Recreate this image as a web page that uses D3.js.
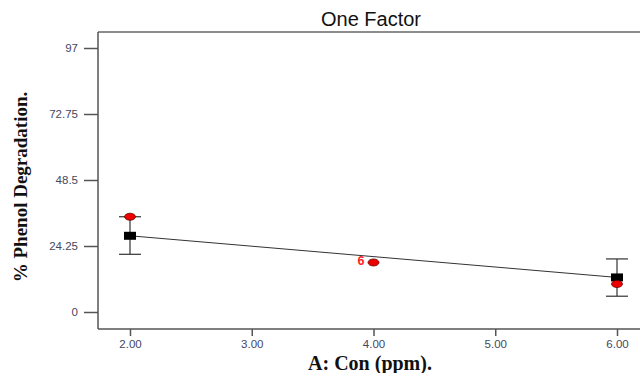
<!DOCTYPE html>
<meta charset="utf-8">
<style>
body { margin: 0; background: #fff; }
.axis path, .axis line { fill: none; stroke: #555; stroke-width: 1.5; }
.axis text { font-family: "Liberation Sans", Arial, sans-serif; font-size: 11.5px; fill: #44475f; }
.axlabel { font-family: "Liberation Serif", "Times New Roman", serif; font-weight: bold; fill: #111; }
</style>
<body>
<script src="https://d3js.org/d3.v7.min.js"></script>
<script>
// predicted line (design points) and error bars
var levels = [2, 6];
var predicted = [28.0, 12.7];
var barLow = [21.2, 5.8];
var barHigh = [35.0, 19.5];

// actual runs
var runX = [2, 4, 6];
var runY = [35.0, 18.2, 10.3];
var runLabels = ["", "6", ""];

var xTicks = [2, 3, 4, 5, 6];
var yTicks = [0, 24.25, 48.5, 72.75, 97];

var W = 640, H = 373;
var frameLeft = 98, frameTop = 32, frameBottom = 329;

var svg = d3.select("body").append("svg")
    .attr("width", W)
    .attr("height", H);

var x = d3.scaleLinear().domain([2, 6]).range([130, 617]);
var y = d3.scaleLinear().domain([0, 97]).range([312, 48]);

// frame top line
svg.append("line")
    .attr("x1", frameLeft).attr("x2", W)
    .attr("y1", frameTop).attr("y2", frameTop)
    .style("stroke", "#666").style("stroke-width", 1.5);

// x axis
var xAxis = svg.append("g")
    .attr("class", "axis")
    .attr("transform", "translate(0," + frameBottom + ")")
    .call(d3.axisBottom(x).tickValues(xTicks).tickFormat(d3.format(".2f")).tickSize(7).tickSizeOuter(0));
xAxis.select(".domain").attr("d", "M" + frameLeft + ",0H" + W);
xAxis.selectAll("text").attr("y", 9).attr("dy", "0.9em");

// y axis
var yAxis = svg.append("g")
    .attr("class", "axis")
    .attr("transform", "translate(" + frameLeft + ",0)")
    .call(d3.axisLeft(y).tickValues(yTicks).tickFormat(function(d) { return d; }).tickSize(14).tickSizeOuter(0));
yAxis.select(".domain").attr("d", "M0," + frameTop + "V" + frameBottom);
yAxis.selectAll("text").attr("x", -20);

// prediction line
svg.append("path")
    .datum(levels.map(function(d, i) { return [d, predicted[i]]; }))
    .attr("d", d3.line().x(function(d) { return x(d[0]); }).y(function(d) { return y(d[1]); }))
    .style("fill", "none").style("stroke", "#333").style("stroke-width", 1);

// error bars
var eb = svg.selectAll(".eb").data(levels).enter().append("g").attr("class", "eb");
eb.append("line")
    .attr("x1", function(d) { return x(d); }).attr("x2", function(d) { return x(d); })
    .attr("y1", function(d, i) { return y(barLow[i]); }).attr("y2", function(d, i) { return y(barHigh[i]); });
eb.append("line")
    .attr("x1", function(d) { return x(d) - 11; }).attr("x2", function(d) { return x(d) + 11; })
    .attr("y1", function(d, i) { return y(barLow[i]); }).attr("y2", function(d, i) { return y(barLow[i]); });
eb.append("line")
    .attr("x1", function(d) { return x(d) - 11; }).attr("x2", function(d) { return x(d) + 11; })
    .attr("y1", function(d, i) { return y(barHigh[i]); }).attr("y2", function(d, i) { return y(barHigh[i]); });
eb.selectAll("line").style("stroke", "#333").style("stroke-width", 1.2);

// prediction squares
svg.selectAll(".sq").data(levels).enter().append("rect")
    .attr("x", function(d) { return x(d) - 6; })
    .attr("y", function(d, i) { return y(predicted[i]) - 4; })
    .attr("width", 12).attr("height", 8)
    .style("fill", "#000");

// actual points
svg.selectAll(".pt").data(runX).enter().append("ellipse")
    .attr("cx", function(d) { return x(d); })
    .attr("cy", function(d, i) { return y(runY[i]); })
    .attr("rx", 5.5).attr("ry", 3.5)
    .style("fill", "#e00").style("stroke", "#600").style("stroke-width", 0.8);

svg.selectAll(".plab").data(runX).enter().append("text")
    .attr("x", function(d) { return x(d) - 9; })
    .attr("y", function(d, i) { return y(runY[i]) + 3; })
    .attr("text-anchor", "end")
    .style("font-family", "Liberation Sans, Arial, sans-serif")
    .style("font-weight", "bold").style("font-size", "12.5px").style("fill", "#f22")
    .text(function(d, i) { return runLabels[i]; });

// title
svg.append("text")
    .attr("x", 371).attr("y", 26)
    .attr("text-anchor", "middle")
    .style("font-family", "Liberation Sans, Arial, sans-serif")
    .style("font-size", "20px").style("fill", "#111")
    .text("One Factor");

// axis labels
svg.append("text")
    .attr("class", "axlabel")
    .attr("x", 370).attr("y", 370)
    .attr("text-anchor", "middle")
    .style("font-size", "20px")
    .text("A: Con (ppm).");

svg.append("text")
    .attr("class", "axlabel")
    .attr("transform", "translate(27,187) rotate(-90)")
    .attr("text-anchor", "middle")
    .style("font-size", "19px")
    .text("% Phenol Degradation.");
</script>
</body>
